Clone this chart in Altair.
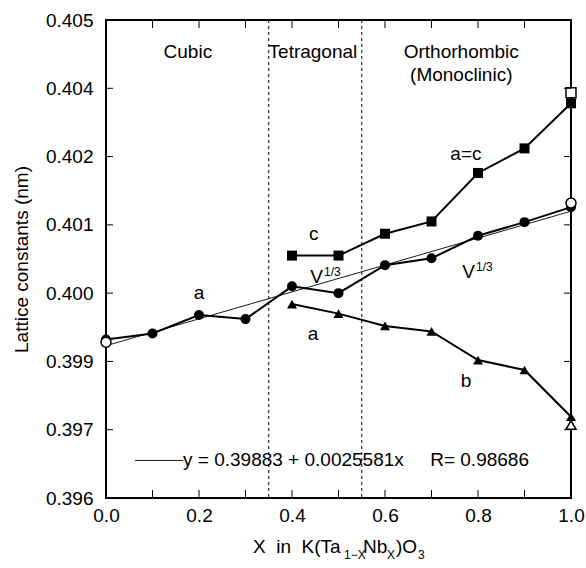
import altair as alt
import pandas as pd

# ---------------- data ----------------
x_all = [0.0, 0.1, 0.2, 0.3, 0.4, 0.5, 0.6, 0.7, 0.8, 0.9, 1.0]
v13_y = [0.39932, 0.39941, 0.39968, 0.39962, 0.40010, 0.40000,
         0.40041, 0.40051, 0.40084, 0.40104, 0.40126]
x_tet = [0.4, 0.5, 0.6, 0.7, 0.8, 0.9, 1.0]
c_y = [0.40055, 0.40055, 0.40087, 0.40105, 0.40176, 0.40224, 0.40356]
a_y = [0.39984, 0.39970, 0.39952, 0.39944, 0.39902, 0.39875, 0.39738]

open_x = [0.0, 1.0, 1.0, 1.0]
open_y = [0.39928, 0.40132, 0.40387, 0.39714]
open_shape = ["circle", "circle", "square", "triangle-up"]

fit_x = [0.0, 1.0]
fit_y = [0.39923, 0.40120]

y_ticks = [0.396, 0.397, 0.399, 0.400, 0.401, 0.402, 0.404, 0.405]
x_ticks = [0.0, 0.2, 0.4, 0.6, 0.8, 1.0]
x_minor = [0.1, 0.2, 0.3, 0.4, 0.5, 0.6, 0.7, 0.8, 0.9]
y_inner = [0.397, 0.399, 0.400, 0.401, 0.402, 0.404]
phase_bounds = [0.35, 0.55]

ann_text = ["Cubic", "Tetragonal", "Orthorhombic", "(Monoclinic)", "a=c", "c", "a", "a", "b"]
ann_x = [0.176, 0.445, 0.764, 0.764, 0.774, 0.447, 0.200, 0.445, 0.774]
ann_y = [0.40453, 0.40453, 0.40453, 0.40419, 0.40207, 0.40087, 0.40000, 0.39940, 0.39843]

v_x = [0.4667, 0.7935]
v_y = [0.40023, 0.40031]
sup_y = [0.40031, 0.40038]

NB = "\u00a0"
legend_x = [0.0624, 0.1656]
legend_y = 0.39655
legend_text = "y = 0.39883 + 0.0025581x" + NB * 5 + "R= 0.98686"

# ---------------- layout ----------------
W, H = 465, 478
FONT = "Liberation Sans"
FS = 19

xs = alt.Scale(domain=[0, 1], nice=False, zero=False)
y_range = [H - i * H / 7 for i in range(len(y_ticks))]
ys = alt.Scale(type="linear", domain=y_ticks, range=y_range, nice=False, zero=False)

XAX = alt.Axis(values=x_ticks, format=".1f", title=None, labelPadding=8)
YAX = alt.Axis(values=y_ticks, format=".3f", title="Lattice constants (nm)",
               labelPadding=13, titlePadding=14)

series_df = pd.DataFrame(
    {"x": x_all + x_tet + x_tet,
     "y": v13_y + c_y + a_y,
     "series": ["V"] * len(x_all) + ["c"] * len(x_tet) + ["a"] * len(x_tet)}
)
open_df = pd.DataFrame({"x": open_x, "y": open_y, "shape": open_shape})
fit_df = pd.DataFrame({"x": fit_x, "y": fit_y})
ann_df = pd.DataFrame({"x": ann_x, "y": ann_y, "t": ann_text})
v_df = pd.DataFrame({"x": v_x, "y": v_y, "ys": sup_y})
leg_df = pd.DataFrame({"x": legend_x, "y": [legend_y, legend_y]})

X = lambda: alt.X("x:Q", scale=xs, axis=XAX)
Y = lambda: alt.Y("y:Q", scale=ys, axis=YAX)

SHAPE_DOM = ["V", "c", "a", "circle", "square", "triangle-up"]
SHAPE_RNG = ["circle", "square", "triangle-up", "circle", "square", "triangle-up"]
SIZE_RNG = [100, 100, 150, 100, 100, 150]

phase = alt.Chart(pd.DataFrame({"x": phase_bounds})).mark_rule(
    color="black", strokeWidth=1, strokeDash=[3, 3]
).encode(x=X())

fit = alt.Chart(fit_df).mark_line(color="black", strokeWidth=0.9).encode(x=X(), y=Y())

leg_line = alt.Chart(leg_df).mark_line(color="black", strokeWidth=0.9).encode(x=X(), y=Y())
leg_text = alt.Chart(pd.DataFrame({"x": [legend_x[1]], "y": [legend_y], "t": [legend_text]})).mark_text(
    align="left", baseline="middle", font=FONT, fontSize=FS, color="black"
).encode(x=X(), y=Y(), text="t:N")

lines = alt.Chart(series_df).mark_line(color="black", strokeWidth=2).encode(
    x=X(), y=Y(), detail="series:N"
)

shape_enc = lambda f: alt.Shape(f, legend=None, scale=alt.Scale(domain=SHAPE_DOM, range=SHAPE_RNG))
size_enc = lambda f: alt.Size(f, legend=None, scale=alt.Scale(domain=SHAPE_DOM, range=SIZE_RNG))

filled_pts = alt.Chart(series_df).mark_point(
    filled=True, color="black", opacity=1
).encode(x=X(), y=Y(), shape=shape_enc("series:N"), size=size_enc("series:N"))

open_pts = alt.Chart(open_df).mark_point(
    filled=True, fill="white", stroke="black", strokeWidth=1.5, opacity=1
).encode(x=X(), y=Y(), shape=shape_enc("shape:N"), size=size_enc("shape:N"))

ann = alt.Chart(ann_df).mark_text(
    align="center", baseline="middle", font=FONT, fontSize=FS, color="black"
).encode(x=X(), y=Y(), text="t:N")

v_main = alt.Chart(v_df).mark_text(
    align="right", baseline="middle", font=FONT, fontSize=FS, color="black", text="V"
).encode(x=X(), y=Y())
v_sup = alt.Chart(v_df).mark_text(
    align="left", baseline="middle", font=FONT, fontSize=12, color="black", text="1/3", dx=1
).encode(x=X(), y=alt.Y("ys:Q", scale=ys, axis=YAX))

# inward ticks
xt_bot = alt.Chart(pd.DataFrame({"x": x_minor})).mark_rule(color="black", strokeWidth=1).encode(
    x=X(), y=alt.value(H - 8), y2=alt.value(H))
xt_top = alt.Chart(pd.DataFrame({"x": x_minor})).mark_rule(color="black", strokeWidth=1).encode(
    x=X(), y=alt.value(0), y2=alt.value(8))
yt_left = alt.Chart(pd.DataFrame({"y": y_inner})).mark_rule(color="black", strokeWidth=1).encode(
    y=Y(), x=alt.value(0), x2=alt.value(7))
yt_right = alt.Chart(pd.DataFrame({"y": y_inner})).mark_rule(color="black", strokeWidth=1).encode(
    y=Y(), x=alt.value(W - 7), x2=alt.value(W))

# x-axis title with subscripts
one = pd.DataFrame({"a": [0]})
TY = 527
def piece(txt, px, size, dy=0):
    return alt.Chart(one).mark_text(
        align="left", baseline="middle", font=FONT, fontSize=size, color="black", text=txt, dy=dy
    ).encode(x=alt.value(px), y=alt.value(TY))

x0 = 147
title_parts = [
    piece("X" + NB * 2 + "in" + NB * 2 + "K(Ta", x0, FS),
    piece("1\u2212X", x0 + 91, 12, 8),
    piece("Nb", x0 + 110, FS),
    piece("X", x0 + 134, 12, 8),
    piece(")O", x0 + 143, FS),
    piece("3", x0 + 165, 12, 8),
]

chart = alt.layer(
    phase, fit, leg_line, leg_text, lines, filled_pts, open_pts, ann, v_main, v_sup,
    xt_bot, xt_top, yt_left, yt_right, *title_parts
).properties(
    width=W, height=H,
    background="white",
    autosize=alt.AutoSizeParams(type="none"),
    padding={"left": 106, "top": 20, "right": 15, "bottom": 70},
).configure_view(
    stroke="black", strokeWidth=2
).configure_axis(
    domain=False, ticks=False, grid=False,
    labelFont=FONT, labelFontSize=FS, labelColor="black",
    titleFont=FONT, titleFontSize=FS, titleFontWeight="normal", titleColor="black",
    labelFlush=False,
)

chart.save("out.html", embed_options={"renderer": "svg", "actions": False})
